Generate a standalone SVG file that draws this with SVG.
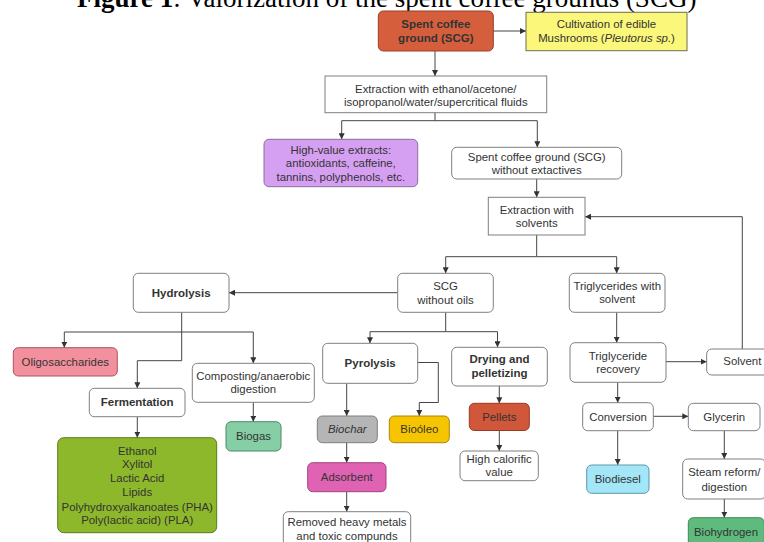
<svg xmlns="http://www.w3.org/2000/svg" width="764" height="542" viewBox="0 0 764 542">
<defs>
<marker id="ah" markerUnits="userSpaceOnUse" markerWidth="6" markerHeight="6" refX="6" refY="3" orient="auto">
<path d="M0,0 L6,3 L0,6 z" fill="#333"/>
</marker>
<style>
.t{font-family:"Liberation Sans",Arial,sans-serif;font-size:11.4px;fill:#333;text-anchor:middle}
.b{font-weight:bold;font-size:11.5px}
.w{fill:#fff;stroke:#7f7f7f;stroke-width:1}
.c{fill:none;stroke:#444;stroke-width:1;marker-end:url(#ah)}
.n{fill:none;stroke:#444;stroke-width:1}
</style>
</defs>
<rect width="764" height="542" fill="#fff"/>
<text x="77" y="6.5" font-family="'Liberation Serif','Times New Roman',serif" font-size="27" fill="#000"><tspan font-weight="bold">Figure 1</tspan>: Valorization of the spent coffee grounds (SCG)</text>

<g id="connectors">
<path class="c" d="M493,31 H526"/>
<path class="c" d="M435,51 V76"/>
<path class="n" d="M435,112.7 V120.7"/>
<path class="c" d="M435,120.7 H341.7 V139.3"/>
<path class="c" d="M435,120.7 H537.3 V147.3"/>
<path class="c" d="M536.7,179 V197.3"/>
<path class="n" d="M536.7,235 V256.7"/>
<path class="c" d="M536.7,256.7 H445.7 V273.3"/>
<path class="c" d="M536.7,256.7 H616.7 V273.3"/>
<path class="c" d="M742.3,349 V216.7 H585"/>
<path class="c" d="M397.7,292.7 H229"/>
<path class="c" d="M181.7,312.3 V360.7 H137.3 V388.3"/>
<path class="c" d="M181.7,332 H64.3 V347.7"/>
<path class="c" d="M181.7,332 H253.3 V363.3"/>
<path class="c" d="M137.3,416.7 V437.7"/>
<path class="c" d="M253.3,402.3 V421.7"/>
<path class="n" d="M445.7,312.3 V331.7"/>
<path class="c" d="M445.7,331.7 H370 V343.3"/>
<path class="c" d="M445.7,331.7 H497.5 V347.3"/>
<path class="c" d="M346.7,383.3 V416"/>
<path class="c" d="M417.7,362.5 H438.3 V402.5 H419.3 V416"/>
<path class="c" d="M499.3,386 V403.3"/>
<path class="c" d="M499.3,430.7 V451"/>
<path class="c" d="M346.7,442.7 V462.7"/>
<path class="c" d="M346.7,491.7 V511.7"/>
<path class="c" d="M616.7,312.3 V342.7"/>
<path class="c" d="M666,361.7 H706.7"/>
<path class="c" d="M617.7,382.3 V402.7"/>
<path class="c" d="M653.3,416.3 H688.3"/>
<path class="c" d="M617.7,430.7 V465"/>
<path class="c" d="M724.3,430.7 V459"/>
<path class="c" d="M724.3,499 V517.7"/>
</g>

<g id="scg">
<rect x="378.3" y="11" width="115" height="40" rx="5" fill="#D55F3D" stroke="#9a3e26"/>
<text class="t b" x="435.8" y="28" fill="#2b1a12">Spent coffee</text>
<text class="t b" x="435.8" y="42" fill="#2b1a12">ground (SCG)</text>
</g>
<g id="cultivation">
<rect x="526" y="12.3" width="161" height="38.4" fill="#FAF77A" stroke="#6f6f50"/>
<text class="t" x="606.5" y="28">Cultivation of edible</text>
<text class="t" x="606.5" y="41.7">Mushrooms (<tspan font-style="italic">Pleutorus sp.</tspan>)</text>
</g>
<g id="extraction">
<rect class="w" x="325" y="76" width="221.7" height="36.7"/>
<text class="t" x="435.8" y="93">Extraction with ethanol/acetone/</text>
<text class="t" x="435.8" y="105.7">isopropanol/water/supercritical fluids</text>
</g>
<g id="highvalue">
<rect x="264" y="139.3" width="153.7" height="47.4" rx="5" fill="#D6A0F2" stroke="#8c6c9c"/>
<text class="t" x="340.8" y="154">High-value extracts:</text>
<text class="t" x="340.8" y="167.3">antioxidants, caffeine,</text>
<text class="t" x="340.8" y="180.7">tannins, polyphenols, etc.</text>
</g>
<g id="scg-no-extractives">
<rect class="w" x="451.7" y="147.3" width="170" height="31.7" rx="5"/>
<text class="t" x="536.7" y="160.7">Spent coffee ground (SCG)</text>
<text class="t" x="536.7" y="174">without extactives</text>
</g>
<g id="extraction-solvents">
<rect class="w" x="488.3" y="197.3" width="96.7" height="37.7"/>
<text class="t" x="536.7" y="214">Extraction with</text>
<text class="t" x="536.7" y="227.3">solvents</text>
</g>
<g id="scg-no-oils">
<rect class="w" x="397.7" y="273.3" width="95.6" height="39" rx="5"/>
<text class="t" x="445.5" y="289.7" fill="#555">SCG</text>
<text class="t" x="445.5" y="304" fill="#555">without oils</text>
</g>
<g id="triglycerides-solvent">
<rect class="w" x="569.3" y="273.3" width="95.7" height="39" rx="5"/>
<text class="t" x="617.2" y="289.7">Triglycerides with</text>
<text class="t" x="617.2" y="303.3">solvent</text>
</g>
<g id="hydrolysis">
<rect class="w" x="133.3" y="273.3" width="95.7" height="39" rx="5"/>
<text class="t b" x="181.2" y="296.8">Hydrolysis</text>
</g>
<g id="oligosaccharides">
<rect x="13.3" y="347.7" width="104" height="28.3" rx="5" fill="#F2909E" stroke="#b0505f"/>
<text class="t" x="65.3" y="365.8">Oligosaccharides</text>
</g>
<g id="fermentation">
<rect class="w" x="89.3" y="388.3" width="95.7" height="28.4" rx="5"/>
<text class="t b" x="137.2" y="405.8">Fermentation</text>
</g>
<g id="composting">
<rect class="w" x="192.3" y="363.3" width="122" height="39" rx="5"/>
<text class="t" x="253.3" y="380">Composting/anaerobic</text>
<text class="t" x="253.3" y="393.3">digestion</text>
</g>
<g id="biogas">
<rect x="226" y="421.7" width="55" height="29.3" rx="5" fill="#86CFA6" stroke="#4b8a68"/>
<text class="t" x="253.5" y="440">Biogas</text>
</g>
<g id="products">
<rect x="57.7" y="437.7" width="159" height="95" rx="6" fill="#8DB82B" stroke="#5b7a1e"/>
<text class="t" x="137.2" y="454.7">Ethanol</text>
<text class="t" x="137.2" y="468.4">Xylitol</text>
<text class="t" x="137.2" y="482.3">Lactic Acid</text>
<text class="t" x="137.2" y="496.3">Lipids</text>
<text class="t" x="137.2" y="510.6">Polyhydroxyalkanoates (PHA)</text>
<text class="t" x="137.2" y="524">Poly(lactic acid) (PLA)</text>
</g>
<g id="pyrolysis">
<rect class="w" x="322.7" y="343.3" width="95" height="40" rx="5"/>
<text class="t b" x="370.2" y="366.8">Pyrolysis</text>
</g>
<g id="drying">
<rect class="w" x="451.7" y="347.3" width="95.6" height="38.7" rx="5"/>
<text class="t b" x="499.5" y="363.3">Drying and</text>
<text class="t b" x="499.5" y="377.3">pelletizing</text>
</g>
<g id="biochar">
<rect x="317.3" y="416" width="60" height="26.7" rx="5" fill="#B5B5B5" stroke="#7f7f7f"/>
<text class="t" x="347.3" y="433" font-style="italic">Biochar</text>
</g>
<g id="bioleo">
<rect x="389.3" y="416" width="60" height="26.7" rx="5" fill="#F6C500" stroke="#a8860a"/>
<text class="t" x="419.3" y="433">Bioóleo</text>
</g>
<g id="pellets">
<rect x="469.3" y="403.3" width="60" height="27.2" rx="5" fill="#D1573A" stroke="#963a24"/>
<text class="t" x="499.3" y="421.3" fill="#4a1a10">Pellets</text>
</g>
<g id="calorific">
<rect class="w" x="460" y="451" width="78.3" height="29.7" rx="5"/>
<text class="t" x="499.2" y="463">High calorific</text>
<text class="t" x="499.2" y="475.7">value</text>
</g>
<g id="adsorbent">
<rect x="307.7" y="462.7" width="78.3" height="29" rx="5" fill="#E063B3" stroke="#a04282"/>
<text class="t" x="346.8" y="481.3" fill="#3a1a30">Adsorbent</text>
</g>
<g id="removed">
<rect class="w" x="283.3" y="511.7" width="127.4" height="34" rx="5"/>
<text class="t" x="347" y="525.7">Removed heavy metals</text>
<text class="t" x="347" y="539.7">and toxic compunds</text>
</g>
<g id="recovery">
<rect class="w" x="570" y="342.7" width="96" height="39.6" rx="5"/>
<text class="t" x="618" y="359.7">Triglyceride</text>
<text class="t" x="618" y="373">recovery</text>
</g>
<g id="solvent">
<rect class="w" x="706.7" y="349" width="71.3" height="26" rx="5"/>
<text class="t" x="742.3" y="365">Solvent</text>
</g>
<g id="conversion">
<rect class="w" x="582.7" y="402.7" width="70.6" height="28" rx="5"/>
<text class="t" x="618" y="420.7">Conversion</text>
</g>
<g id="glycerin">
<rect class="w" x="688.3" y="403.3" width="71.7" height="27.4" rx="5"/>
<text class="t" x="724.2" y="420.7">Glycerin</text>
</g>
<g id="biodiesel">
<rect x="586.7" y="465" width="62.3" height="28.3" rx="5" fill="#A2E6F7" stroke="#5b98ad"/>
<text class="t" x="617.8" y="483.3">Biodiesel</text>
</g>
<g id="steam">
<rect class="w" x="682.7" y="459" width="83" height="40" rx="5"/>
<text class="t" x="724.3" y="475.7">Steam reform/</text>
<text class="t" x="724.3" y="490.7">digestion</text>
</g>
<g id="biohydrogen">
<rect x="688.3" y="517.7" width="76" height="30" rx="5" fill="#5FBA7D" stroke="#3a8a55"/>
<text class="t" x="726" y="535.7">Biohydrogen</text>
</g>
</svg>
